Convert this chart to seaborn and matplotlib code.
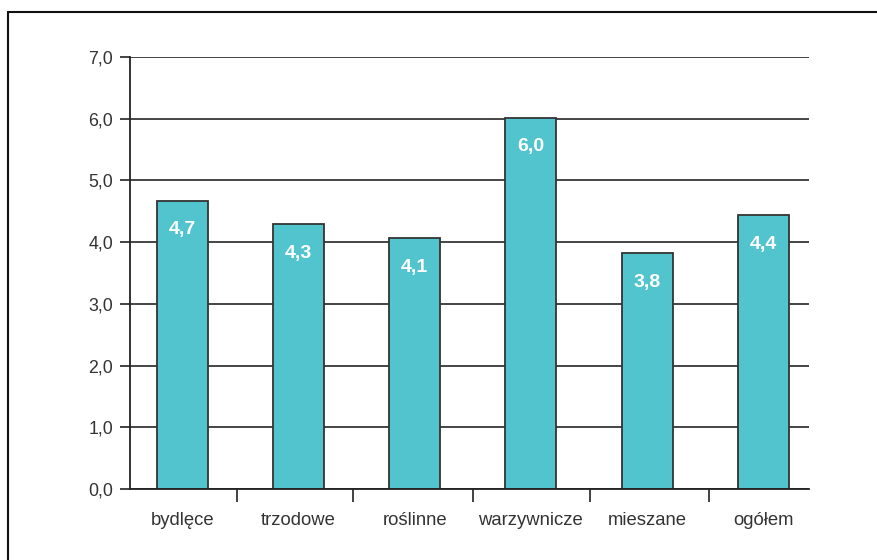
import pandas as pd
import matplotlib.pyplot as plt
import seaborn as sns
from matplotlib.lines import Line2D
from matplotlib.ticker import FixedLocator

# Data
categories = ['bydlęce', 'trzodowe', 'roślinne', 'warzywnicze', 'mieszane', 'ogółem']
values = [4.67, 4.29, 4.06, 6.02, 3.82, 4.44]
y_ticks = [0, 1, 2, 3, 4, 5, 6, 7]

df = pd.DataFrame({'typ': categories, 'wartosc': values})

sns.set_style('white')
plt.rcParams['font.family'] = ['Liberation Sans', 'DejaVu Sans']

fig = plt.figure(figsize=(8.78, 5.6), dpi=100)
ax = fig.add_axes([0.148, 0.127, 0.773, 0.771])

sns.barplot(data=df, x='typ', y='wartosc', color='#52C4CE', saturation=1,
            width=0.44, edgecolor='#333333', linewidth=1.3, ax=ax, zorder=3)

# horizontal gridlines
for t in y_ticks:
    ax.axhline(t, color='#444444', lw=1.4, zorder=1)

ax.set_ylim(0, 7)
ax.set_xlim(-0.45, 5.39)
ax.set_yticks(y_ticks)
ax.set_yticklabels([f'{t:.1f}'.replace('.', ',') for t in y_ticks])
ax.tick_params(axis='y', length=7, width=1.2, color='#222222', pad=5,
               labelsize=12.8, labelcolor='#333333', left=True)
ax.tick_params(axis='x', which='major', length=0, pad=16.5,
               labelsize=13.3, labelcolor='#333333')
ax.xaxis.set_minor_locator(FixedLocator([0.47, 1.47, 2.5, 3.51, 4.53]))
ax.tick_params(axis='x', which='minor', length=9, width=1.2, color='#222222',
               bottom=True, direction='out')
ax.set_xlabel('')
ax.set_ylabel('')

for s in ['top', 'right']:
    ax.spines[s].set_visible(False)
for s in ['left', 'bottom']:
    ax.spines[s].set_color('#222222')
    ax.spines[s].set_linewidth(1.3)
    ax.spines[s].set_zorder(4)

# value labels inside the bars
for i, v in enumerate(values):
    ax.text(i, v - 0.47, f'{v:.1f}'.replace('.', ','), ha='center', va='center',
            color='white', fontsize=14, fontweight='bold', zorder=5)

# outer frame (left and top edges)
fig.add_artist(Line2D([8 / 878, 8 / 878], [0, 1 - 12 / 560], color='#111111', lw=1.5,
                      transform=fig.transFigure))
fig.add_artist(Line2D([8 / 878, 1], [1 - 12 / 560, 1 - 12 / 560], color='#111111', lw=1.5,
                      transform=fig.transFigure))

plt.savefig('out.png', dpi=100)
